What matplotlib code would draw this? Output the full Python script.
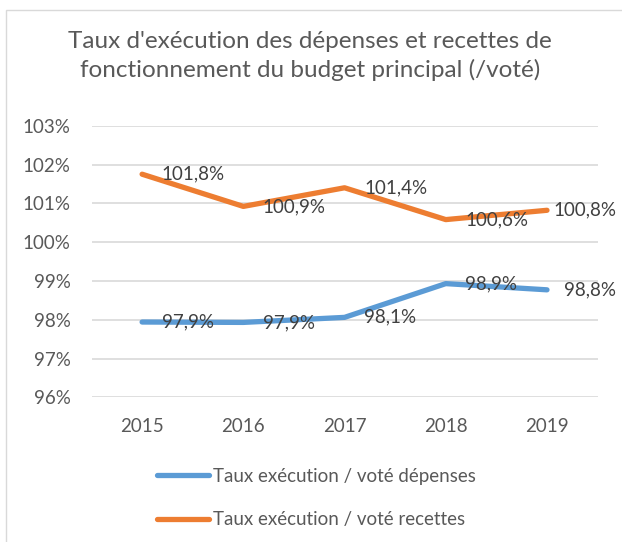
import matplotlib
matplotlib.use('Agg')
import matplotlib.pyplot as plt
from matplotlib.patches import Rectangle

years = ['2015', '2016', '2017', '2018', '2019']
depenses = [97.94, 97.93, 98.06, 98.93, 98.77]
recettes = [101.75, 100.92, 101.40, 100.58, 100.82]
lbl_dep = ['97,9%', '97,9%', '98,1%', '98,9%', '98,8%']
lbl_rec = ['101,8%', '100,9%', '101,4%', '100,6%', '100,8%']
yticks = [96, 97, 98, 99, 100, 101, 102, 103]

plt.rcParams['font.family'] = ['Lato', 'DejaVu Sans']
txt = '#595959'
fs = 13.5

fig = plt.figure(figsize=(6.22, 5.42), dpi=100)
fig.patches.append(Rectangle((6 / 622, -0.1), 1.2, 1 - 10 / 542 + 0.1,
                             transform=fig.transFigure, fill=False,
                             edgecolor='#d9d9d9', linewidth=1.0))

ax = fig.add_axes([91.5 / 622, 1 - 397.3 / 542, (597.6 - 91.5) / 622, (397.3 - 125.7) / 542])
x = list(range(len(years)))
ax.plot(x, depenses, color='#5B9BD5', linewidth=3.8, solid_capstyle='round',
        label='Taux exécution / voté dépenses')
ax.plot(x, recettes, color='#ED7D31', linewidth=3.8, solid_capstyle='round',
        label='Taux exécution / voté recettes')

# data labels to the right of each point, last ones pulled in to stay on the page
off_dep = [14, 14, 14, 14, 12]
off_rec = [14, 14, 14, 14, 5]
for i in x:
    ax.annotate(lbl_dep[i], (i, depenses[i]), xytext=(off_dep[i], 0), textcoords='offset points',
                ha='left', va='center', fontsize=fs, color='#404040')
    ax.annotate(lbl_rec[i], (i, recettes[i]), xytext=(off_rec[i], 0), textcoords='offset points',
                ha='left', va='center', fontsize=fs, color='#404040')

ax.set_xlim(-0.5, len(years) - 0.5)
ax.set_ylim(96, 103)
ax.set_xticks(x)
ax.set_xticklabels(years)
ax.set_yticks(yticks)
ax.set_yticklabels(['%d%%' % v for v in yticks])
ax.tick_params(length=0, labelsize=fs, colors=txt)
ax.tick_params(axis='y', pad=15)
ax.tick_params(axis='x', pad=15)
ax.grid(axis='y', color='#d9d9d9', linewidth=1.2)
ax.set_axisbelow(True)
for s in ax.spines.values():
    s.set_visible(False)

fig.text(310 / 622, 1 - 56 / 542, "Taux d'exécution des dépenses et recettes de\nfonctionnement du budget principal (/voté)",
         ha='center', va='center', fontsize=17.5, color=txt, linespacing=1.4)

fig.legend(loc='upper left', bbox_to_anchor=(140 / 622, 1 - 451 / 542), frameon=False,
           fontsize=fs, labelcolor=txt, handlelength=2.8, handletextpad=0.2,
           labelspacing=1.4)

fig.savefig('out.png', dpi=100)
